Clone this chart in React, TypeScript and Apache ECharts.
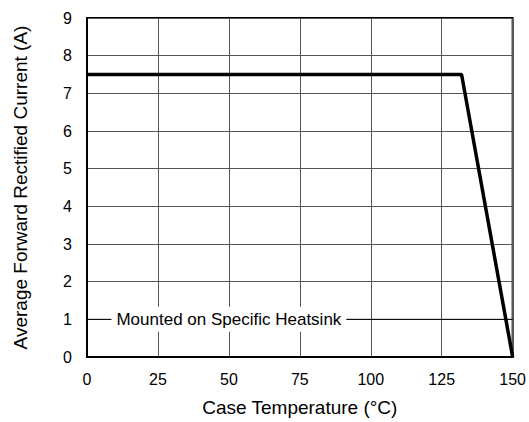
import React, { useEffect, useRef } from "react";
import * as echarts from "echarts";

const xTicks = { min: 0, max: 150, interval: 25 };
const yTicks = { min: 0, max: 9, interval: 1 };
const deratingCurve: [number, number][] = [
  [0, 7.5],
  [132, 7.5],
  [150, 0],
];
const annotationLevel = 1;
const annotationSpan: [number, number] = [0, 150];
const annotationLabelX = 50;
const annotationText = "Mounted on Specific Heatsink";
const xTitle = "Case Temperature (°C)";
const yTitle = "Average Forward Rectified Current (A)";

const FONT = "'Liberation Sans', Arial, Helvetica, sans-serif";

export default function App() {
  const ref = useRef<HTMLDivElement>(null);
  useEffect(() => {
    if (!ref.current) return;
    const chart = echarts.init(ref.current, undefined, { renderer: "svg" });
    chart.setOption({
      animation: false,
      backgroundColor: "#fff",
      textStyle: { fontFamily: FONT },
      grid: {
        left: 87,
        right: 15,
        top: 18,
        bottom: 58,
        show: true,
        borderColor: "#000",
        borderWidth: 2,
        backgroundColor: "transparent",
      },
      xAxis: {
        type: "value",
        min: xTicks.min,
        max: xTicks.max,
        interval: xTicks.interval,
        name: xTitle,
        nameLocation: "middle",
        nameGap: 41,
        nameTextStyle: { fontSize: 19, color: "#000", fontFamily: FONT },
        axisLine: { show: true, onZero: false, lineStyle: { color: "#000", width: 2 } },
        axisTick: { show: false },
        axisLabel: { fontSize: 16, color: "#000", margin: 14, fontFamily: FONT },
        splitLine: { show: true, lineStyle: { color: "#555", width: 1 } },
      },
      yAxis: {
        type: "value",
        min: yTicks.min,
        max: yTicks.max,
        interval: yTicks.interval,
        name: yTitle,
        nameLocation: "middle",
        nameGap: 57,
        nameTextStyle: { fontSize: 19, color: "#000", fontFamily: FONT },
        axisLine: { show: true, onZero: false, lineStyle: { color: "#000", width: 2 } },
        axisTick: { show: false },
        axisLabel: { fontSize: 16, color: "#000", margin: 15, fontFamily: FONT },
        splitLine: { show: true, lineStyle: { color: "#555", width: 1 } },
      },
      series: [
        {
          type: "line",
          z: 2,
          data: annotationSpan.map((x) => [x, annotationLevel]),
          symbol: "none",
          lineStyle: { color: "#000", width: 1 },
          silent: true,
          markPoint: {
            symbol: "rect",
            symbolSize: 0,
            data: [{ coord: [annotationLabelX, annotationLevel] }],
            label: {
              show: true,
              position: "inside",
              formatter: annotationText,
              fontSize: 17,
              color: "#000",
              fontFamily: FONT,
              backgroundColor: "#fff",
              padding: [4, 5],
            },
          },
        },
        {
          type: "line",
          z: 5,
          data: deratingCurve,
          symbol: "none",
          lineStyle: { color: "#000", width: 3.5 },
        },
      ],
    });
    return () => chart.dispose();
  }, []);
  return (
    <div
      ref={ref}
      style={{ position: "fixed", left: 0, top: 0, width: 529, height: 422 }}
    />
  );
}
